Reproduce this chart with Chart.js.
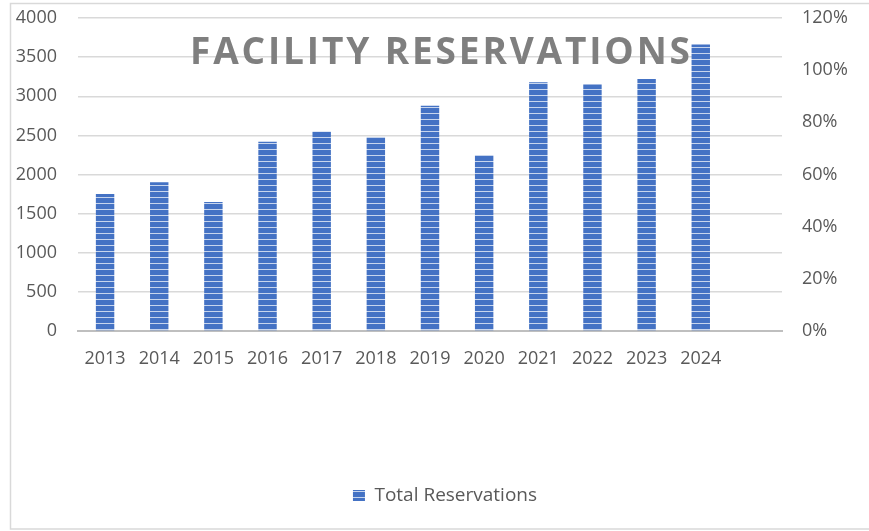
<!DOCTYPE html>
<html>
<head>
<meta charset="utf-8">
<script src="https://cdn.jsdelivr.net/npm/chart.js@4/dist/chart.umd.min.js"></script>
<style>
  html, body { margin: 0; padding: 0; background: #fff; }
  #wrap { width: 869px; height: 531px; }
</style>
</head>
<body>
<div id="wrap"><canvas id="canvas_res" width="869" height="531"></canvas></div>
<script>
var years = ["2013", "2014", "2015", "2016", "2017", "2018", "2019", "2020", "2021", "2022", "2023", "2024", ""];
var reservations = [1750, 1900, 1650, 2420, 2550, 2480, 2880, 2250, 3180, 3150, 3220, 3660, null];
var leftTicks = [0, 500, 1000, 1500, 2000, 2500, 3000, 3500, 4000];
var rightTicks = [0, 0.2, 0.4, 0.6, 0.8, 1.0, 1.2];

var fontName = "'Open Sans', 'Liberation Sans', sans-serif";
var textGrey = '#595959';

// striped fill like the excel narrow horizontal pattern
function stripes() {
    var c = document.createElement('canvas');
    c.width = 8; c.height = 6;
    var g = c.getContext('2d');
    g.fillStyle = '#4472c4';
    g.fillRect(0, 0, 8, 6);
    g.fillStyle = 'rgba(255,255,255,0.7)';
    g.fillRect(0, 5, 8, 1);
    return g.createPattern(c, 'repeat');
}

var frame = {
    id: 'frame',
    beforeDraw: function (chart) {
        var ctx = chart.ctx;
        ctx.save();
        ctx.fillStyle = '#fff';
        ctx.fillRect(0, 0, chart.width, chart.height);
        ctx.strokeStyle = '#d9d9d9';
        ctx.lineWidth = 1.5;
        ctx.strokeRect(10.5, 3.5, 880, 525.5);
        ctx.restore();
    },
    // legend sits a bit right of centre in the original
    afterLayout: function (chart) {
        if (chart.legend) chart.legend.left = 21;
    }
};

var bigTitle = {
    id: 'bigTitle',
    afterDatasetsDraw: function (chart) {
        var ctx = chart.ctx;
        var text = 'FACILITY RESERVATIONS';
        ctx.save();
        ctx.font = 'bold 37px ' + fontName;
        ctx.fillStyle = '#7f7f7f';
        ctx.textBaseline = 'alphabetic';
        var w = ctx.measureText(text).width;
        var gap = (500 - w) / (text.length - 1);
        var x = 190;
        for (var i = 0; i < text.length; i++) {
            ctx.fillText(text[i], x, 64);
            x += ctx.measureText(text[i]).width + gap;
        }
        ctx.restore();
    }
};

function noPad(s) {
    s.paddingTop = 0;
    s.paddingBottom = 0;
}

var ctx = document.getElementById('canvas_res');
var myChart = new Chart(ctx, {
    type: 'bar',
    data: {
        labels: years,
        datasets: [{
            label: 'Total Reservations',
            data: reservations,
            backgroundColor: stripes(),
            borderWidth: 0,
            categoryPercentage: 1,
            barPercentage: 0.34,
            yAxisID: 'y'
        }]
    },
    options: {
        responsive: false,
        animation: false,
        layout: { padding: { top: 18, bottom: 16, left: 0, right: 0 } },
        plugins: {
            title: { display: false },
            tooltip: { enabled: false },
            legend: {
                position: 'bottom',
                labels: {
                    boxWidth: 12,
                    boxHeight: 11,
                    padding: 10,
                    color: textGrey,
                    font: { family: fontName, size: 19 }
                }
            }
        },
        scales: {
            x: {
                grid: { display: false, drawTicks: false },
                border: { display: true, color: '#bfbfbf', width: 2 },
                ticks: { color: textGrey, padding: 17, maxRotation: 0, font: { family: fontName, size: 18 } },
                afterFit: function (s) { s.height = 145; }
            },
            y: {
                position: 'left',
                min: 0,
                max: 4000,
                afterBuildTicks: function (s) { s.ticks = leftTicks.map(function (v) { return { value: v }; }); },
                grid: { color: '#d9d9d9', lineWidth: 1.5, drawTicks: false },
                border: { display: false },
                ticks: {
                    color: textGrey,
                    padding: 21,
                    font: { family: fontName, size: 18 },
                    callback: function (v) { return String(v); }
                },
                afterFit: function (s) { s.width = 78; noPad(s); }
            },
            y2: {
                position: 'right',
                min: 0,
                max: 1.2,
                afterBuildTicks: function (s) { s.ticks = rightTicks.map(function (v) { return { value: v }; }); },
                grid: { display: false, drawTicks: false },
                border: { display: false },
                ticks: {
                    color: textGrey,
                    padding: 20,
                    font: { family: fontName, size: 18 },
                    callback: function (v) { return Math.round(v * 100) + '%'; }
                },
                afterFit: function (s) { s.width = 87; noPad(s); }
            }
        }
    },
    plugins: [frame, bigTitle]
});
</script>
</body>
</html>
